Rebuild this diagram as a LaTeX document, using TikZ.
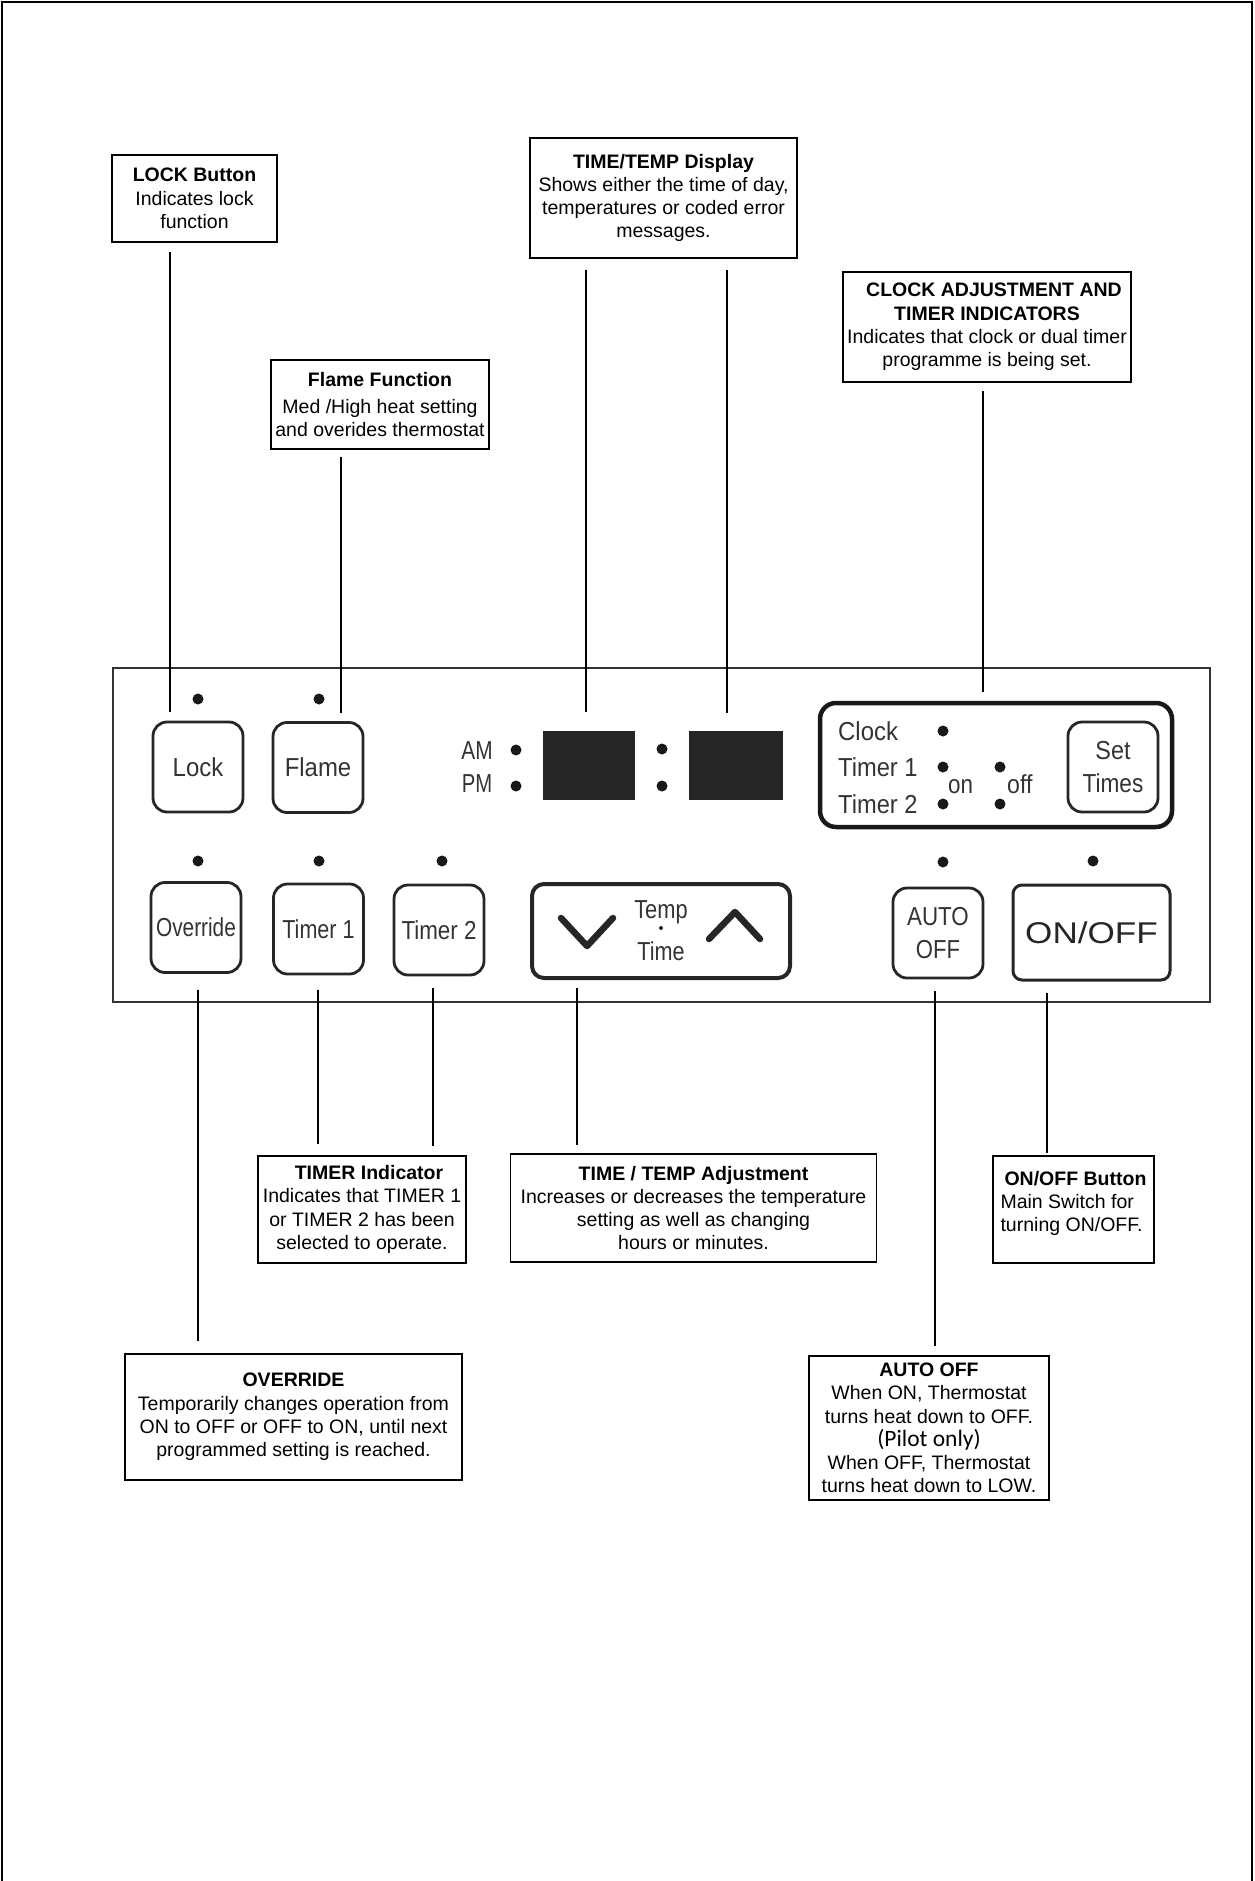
\documentclass[tikz,border=0pt]{standalone}
\usepackage{fontspec}
\setmainfont{Liberation Sans}
\newfontfamily\carlito{Carlito}
\newcommand{\cnd}[2]{\scalebox{#1}[1]{#2}}
\begin{document}
\begin{tikzpicture}[x=1pt,y=-1pt,
  lbl/.style={draw=black, line width=1.8pt, align=center, inner sep=2pt, font=\fontsize{19.5}{23.3}\selectfont, text=black},
  conn/.style={line width=1.6pt, black},
  btn/.style={draw=black!85, line width=2.8pt, rounded corners=14pt, minimum width=90pt, minimum height=90pt, inner sep=0pt, align=center, text=black!80, font=\fontsize{26}{32.5}\selectfont},
  led/.style={circle, fill=black!90, minimum size=11pt, inner sep=0pt},
  ptxt/.style={text=black!80, font=\fontsize{26}{28}\selectfont, inner sep=0pt},
  disp/.style={fill=black!85, minimum height=69pt, inner sep=0pt},
  chev/.style={line width=6.5pt, black!85, line cap=round, line join=round}
]
\useasboundingbox (0,0) rectangle (1254,1881);
% page frame
\draw[line width=2pt] (2,1881) -- (2,2) -- (1251.5,2) -- (1251.5,1881);

% ---------- control panel ----------
\node[draw=black!80, line width=1.5pt, minimum width=1097pt, minimum height=334pt, inner sep=0pt] (panel) at (661.5,835) {};

% LEDs
\node[led] (led-lock) at (198,699) {};
\node[led] (led-flame) at (319,699) {};
\node[led] (led-override) at (198,861) {};
\node[led] (led-t1) at (319,861) {};
\node[led] (led-t2) at (442,861) {};
\node[led] (led-auto) at (943,862) {};
\node[led] (led-onoff) at (1093,861) {};

% buttons
\node[btn] (btn-lock) at (198,767) {\cnd{0.92}{Lock}};
\node[btn] (btn-flame) at (318,767.5) {\cnd{0.92}{Flame}};
\node[btn] (btn-override) at (196,927.5) {\cnd{0.80}{Override}};
\node[btn] (btn-t1) at (318.5,929) {\cnd{0.83}{Timer 1}};
\node[btn] (btn-t2) at (439,930) {\cnd{0.86}{Timer 2}};

% AM / PM and display
\node[ptxt, anchor=base] (am) at (477,759) {\cnd{0.8}{AM}};
\node[ptxt, anchor=base] (pm) at (477,792) {\cnd{0.78}{PM}};
\node[led] (dot-am) at (516,750) {};
\node[led] (dot-pm) at (516,786) {};
\node[disp, minimum width=92pt] (dig1) at (589,765.5) {};
\node[disp, minimum width=94pt] (dig2) at (736,765.5) {};
\node[led] (colon1) at (662,749) {};
\node[led] (colon2) at (662,786) {};

% temp/time button
\node[btn, line width=4pt, rounded corners=12pt, minimum width=258pt, minimum height=94pt, font=\fontsize{26}{42}\selectfont] (btn-temp) at (661,931) {\cnd{0.84}{Temp}\\\cnd{0.83}{Time}};
\node[circle, fill=black!85, minimum size=4pt, inner sep=0pt] (temp-dot) at (661,928) {};
\draw[chev] (561,918) -- (587,946) -- (613,918);
\draw[chev] (709,939) -- (735,912) -- (760,939);

% clock / timer indicator panel
\node[draw=black!90, line width=4.5pt, rounded corners=16pt, minimum width=352pt, minimum height=124pt, inner sep=0pt] (clockpanel) at (996,765) {};
\node[ptxt, anchor=base west] (t-clock) at (838,740) {\cnd{0.92}{Clock}};
\node[ptxt, anchor=base west] (t-timer1) at (838,776.5) {\cnd{0.91}{Timer 1}};
\node[ptxt, anchor=base west] (t-timer2) at (838,813) {\cnd{0.91}{Timer 2}};
\node[led] (d-clock) at (943,731) {};
\node[led] (d-t1on) at (943,767) {};
\node[led] (d-t2on) at (943,804) {};
\node[led] (d-t1off) at (1000,767) {};
\node[led] (d-t2off) at (1000,804) {};
\node[ptxt, anchor=base west] (t-on) at (948,793) {\cnd{0.86}{on}};
\node[ptxt, anchor=base west] (t-off) at (1007,793) {\cnd{0.89}{off}};
\node[btn] (btn-set) at (1113,767) {\cnd{0.9}{Set}\\\cnd{0.87}{Times}};

% auto off and on/off
\node[btn] (btn-auto) at (938,933) {\cnd{0.86}{AUTO}\\\cnd{0.85}{OFF}};
\node[btn, line width=3pt, rounded corners=9pt, minimum width=157pt, minimum height=95pt, font=\fontsize{30}{32}\selectfont, text=black!85] (btn-onoff) at (1091.5,932.5) {\cnd{1.17}{ON/OFF}};

% ---------- label boxes ----------
\node[lbl, minimum width=165pt, minimum height=87pt] (lockbox) at (194.5,198.5)
  {\textbf{LOCK Button}\\Indicates lock\\function};
\node[lbl, minimum width=218pt, minimum height=89pt] (flamebox) at (380,404.5)
  {\textbf{Flame Function}\\[4pt]Med /High heat setting\\and overides thermostat};
\node[lbl, minimum width=267pt, minimum height=120pt] (dispbox) at (663.5,198)
  {\textbf{TIME/TEMP Display}\\Shows either the time of day,\\temperatures or coded error\\messages.};
\node[lbl, minimum width=288pt, minimum height=110pt] (clockbox) at (987,327)
  {\hspace*{14pt}\textbf{CLOCK ADJUSTMENT AND}\\\textbf{TIMER INDICATORS}\\Indicates that clock or dual timer\\programme is being set.};
\node[lbl, minimum width=208pt, minimum height=107pt] (timerbox) at (362,1209.5)
  {\hspace*{14pt}\textbf{TIMER Indicator}\\Indicates that TIMER 1\\or TIMER 2 has been\\selected to operate.};
\node[lbl, minimum width=366pt, minimum height=108pt] (adjbox) at (693.5,1208)
  {\textbf{TIME / TEMP Adjustment}\\Increases or decreases the temperature\\setting as well as changing\\hours or minutes.};
\node[lbl, align=left, minimum width=161pt, minimum height=107pt] (onoffbox) at (1073.5,1209.5)
  {\hspace*{4pt}\textbf{ON/OFF Button}\\Main Switch for\\turning ON/OFF.\rule[-16pt]{0pt}{0pt}};
\node[lbl, minimum width=337pt, minimum height=126pt] (overridebox) at (293.5,1417)
  {\textbf{OVERRIDE}\\Temporarily changes operation from\\ON to OFF or OFF to ON, until next\\programmed setting is reached.};
\node[lbl, minimum width=240pt, minimum height=144pt] (autobox) at (929,1428)
  {\textbf{AUTO OFF}\\When ON, Thermostat\\turns heat down to OFF.\\{\carlito\fontsize{23.5}{23.3}\selectfont (Pilot only)}\\When OFF, Thermostat\\turns heat down to LOW.};

% ---------- connectors ----------
\coordinate (c-lock-a) at (170,252);     \coordinate (c-lock-b) at (170,712);
\coordinate (c-flame-a) at (341,457);    \coordinate (c-flame-b) at (341,713);
\coordinate (c-disp1-a) at (586,270);    \coordinate (c-disp1-b) at (586,712);
\coordinate (c-disp2-a) at (727,270);    \coordinate (c-disp2-b) at (727,713);
\coordinate (c-clock-a) at (983,391);    \coordinate (c-clock-b) at (983,692);
\coordinate (c-over-a) at (198,990);     \coordinate (c-over-b) at (198,1341);
\coordinate (c-t1-a) at (318,990);       \coordinate (c-t1-b) at (318,1144);
\coordinate (c-t2-a) at (433,988);       \coordinate (c-t2-b) at (433,1146);
\coordinate (c-adj-a) at (577,988);      \coordinate (c-adj-b) at (577,1145);
\coordinate (c-auto-a) at (935,991);     \coordinate (c-auto-b) at (935,1346);
\coordinate (c-onoff-a) at (1047,993);   \coordinate (c-onoff-b) at (1047,1153);

\draw[conn] (c-lock-a) -- (c-lock-b);
\draw[conn] (c-flame-a) -- (c-flame-b);
\draw[conn] (c-disp1-a) -- (c-disp1-b);
\draw[conn] (c-disp2-a) -- (c-disp2-b);
\draw[conn] (c-clock-a) -- (c-clock-b);
\draw[conn] (c-over-a) -- (c-over-b);
\draw[conn] (c-t1-a) -- (c-t1-b);
\draw[conn] (c-t2-a) -- (c-t2-b);
\draw[conn] (c-adj-a) -- (c-adj-b);
\draw[conn] (c-auto-a) -- (c-auto-b);
\draw[conn] (c-onoff-a) -- (c-onoff-b);
\end{tikzpicture}
\end{document}
